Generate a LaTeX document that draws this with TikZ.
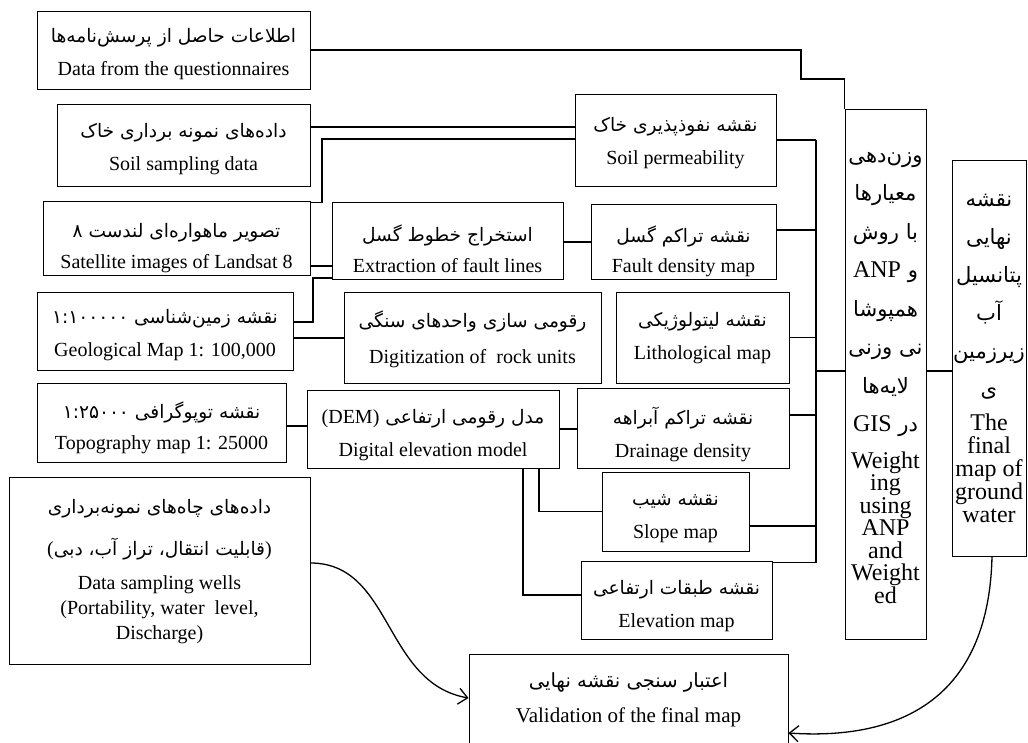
\documentclass[tikz,border=0pt]{standalone}
\usepackage{fontspec}
\setmainfont{Liberation Serif}
\newfontfamily\fafont[Script=Arabic,Scale=0.93]{DejaVu Sans}
\newfontfamily\fafontB[Script=Arabic,Scale=0.88]{DejaVu Sans}
\TeXXeTstate=1
\usetikzlibrary{arrows.meta,calc}
\newcommand\fa[1]{{\fafont\beginR #1\endR}}
\newcommand\faB[1]{{\fafontB\beginR #1\endR}}
\newcommand\ltr[1]{\beginL #1\endL}
\lineskiplimit=-100pt
\begin{document}
\begin{tikzpicture}[x=1pt,y=-1pt,
  bx/.style={draw, line width=1pt, inner sep=0pt, rectangle},
  tx/.style={inner sep=0pt, align=center, font=\fontsize{20}{33}\selectfont},
  conn/.style={line width=1.3pt},
  arr/.style={line width=1.3pt, -{Straight Barb[length=9pt,width=16pt]}},
]
\fill[white] (0,0) rectangle (1028,742);
\useasboundingbox (0,0) rectangle (1028,742);
\clip (0,0) rectangle (1028,742);

% ---------- left column
\node[bx, minimum width=273pt, minimum height=78pt] (q) at (173.5,50) {};
\node[tx] (qT) at ([yshift=-4pt]q.center)
  {\fa{اطلاعات حاصل از پرسش^^^^200cنامه^^^^200cها}\\Data from the questionnaires};

\node[bx, minimum width=253pt, minimum height=82pt] (ss) at (183.5,145) {};
\node[tx] (ssT) at ([yshift=-4pt]ss.center)
  {\fa{داده^^^^200cهای نمونه برداری خاک}\\Soil sampling data};

\node[bx, minimum width=267pt, minimum height=74pt] (sat) at (176.5,238) {};
\node[tx, font=\fontsize{20}{31}\selectfont] (satT) at ([yshift=-10pt]sat.center)
  {\fa{تصویر ماهواره^^^^200cای لندست ۸}\\Satellite images of Landsat 8};

\node[bx, minimum width=256pt, minimum height=78pt] (geo) at (165,331) {};
\node[tx] (geoT) at ([yshift=-4pt]geo.center)
  {\fa{نقشه زمین^^^^200cشناسی \ltr{۱:۱۰۰۰۰۰}}\\Geological Map 1: 100,000};

\node[bx, minimum width=249pt, minimum height=79pt] (topo) at (161.5,422.5) {};
\node[tx, font=\fontsize{20}{31}\selectfont] (topoT) at ([yshift=-5pt]topo.center)
  {\fa{نقشه توپوگرافی \ltr{۱:۲۵۰۰۰}}\\Topography map 1: 25000};

\node[bx, minimum width=301pt, minimum height=187pt] (wells) at (159.5,570.5) {};
\node[tx, font=\fontsize{20}{25}\selectfont] (wellsT) at ([yshift=-1pt]wells.center)
  {\fa{داده^^^^200cهای چاه^^^^200cهای نمونه^^^^200cبرداری}\\[17pt]
   {(}\fa{قابلیت انتقال، تراز آب، دبی}{)}\\[9pt]
   Data sampling wells\\(Portability, water\ \ level,\\Discharge)};

% ---------- middle column
\node[bx, minimum width=231pt, minimum height=77pt] (ext) at (447.5,240.5) {};
\node[tx, font=\fontsize{20}{31}\selectfont] (extT) at ([yshift=-8pt]ext.center)
  {\fa{استخراج خطوط گسل}\\Extraction of fault lines};

\node[bx, minimum width=257pt, minimum height=91pt] (dig) at (472.5,337.5) {};
\node[tx, font=\fontsize{20}{36}\selectfont] (digT) at ([yshift=-2pt]dig.center)
  {\fa{رقومی سازی واحدهای سنگی}\\Digitization of\ \ rock units};

\node[bx, minimum width=252pt, minimum height=78pt] (dem) at (433,429) {};
\node[tx] (demT) at ([yshift=-6pt]dem.center)
  {\fa{مدل رقومی ارتفاعی \ltr{\rmfamily(DEM)}}\\Digital elevation model};

% ---------- map column
\node[bx, minimum width=201pt, minimum height=92pt] (sp) at (675.5,140) {};
\node[tx] (spT) at ([yshift=-3pt]sp.center)
  {\fa{نقشه نفوذپذیری خاک}\\Soil permeability};

\node[bx, minimum width=185pt, minimum height=75pt] (fd) at (683.5,241.5) {};
\node[tx, font=\fontsize{20}{30}\selectfont] (fdT) at ([yshift=-10pt]fd.center)
  {\fa{نقشه تراکم گسل}\\Fault density map};

\node[bx, minimum width=173pt, minimum height=91pt] (lit) at (702.5,337.5) {};
\node[tx] (litT) at ([yshift=-1pt]lit.center)
  {\fa{نقشه لیتولوژیکی}\\Lithological map};

\node[bx, minimum width=212pt, minimum height=80pt] (dr) at (683,428) {};
\node[tx] (drT) at ([yshift=-6pt]dr.center)
  {\fa{نقشه تراکم آبراهه}\\Drainage density};

\node[bx, minimum width=147pt, minimum height=79pt] (sl) at (675.5,511.5) {};
\node[tx] (slT) at ([yshift=-7pt]sl.center)
  {\fa{نقشه شیب}\\Slope map};

\node[bx, minimum width=191pt, minimum height=78pt] (el) at (676.5,600) {};
\node[tx] (elT) at ([yshift=-6pt]el.center)
  {\fa{نقشه طبقات ارتفاعی}\\Elevation map};

% ---------- right column
\node[bx, minimum width=81pt, minimum height=530pt] (wt) at (885.5,374.5) {};
\node[tx, font=\fontsize{24}{22.5}\selectfont] (wtT) at ([yshift=-3pt]wt.center)
  {\faB{وزن^^^^200cدهی}\\[16pt]\faB{معیارها}\\[16pt]\faB{با روش}\\[16pt]
   \faB{و \ltr{\rmfamily ANP}}\\[16pt]\faB{همپوشا}\\[16pt]\faB{نی وزنی}\\[16pt]
   \faB{لایه^^^^200cها}\\[16pt]\faB{در \ltr{\rmfamily GIS}}\\[14pt]
   Weight\\ing\\using\\ANP\\and\\Weight\\ed};

\node[bx, minimum width=74pt, minimum height=396pt] (fin) at (989,358) {};
\node[tx, font=\fontsize{24}{23}\selectfont] (finT) at (fin.center)
  {\faB{نقشه}\\[15pt]\faB{نهایی}\\[15pt]\faB{پتانسیل}\\[15pt]\faB{آب}\\[15pt]
   \faB{زیرزمین}\\[15pt]\faB{ی}\\[11pt]The\\final\\map of\\ground\\water};

\node[bx, minimum width=319pt, minimum height=92pt] (val) at (628.5,700) {};
\node[tx, font=\fontsize{21}{35}\selectfont] (valT) at (val.center)
  {\fa{اعتبار سنجی نقشه نهایی}\\Validation of the final map};

% ---------- connectors
\coordinate (bus) at (816,0);
\coordinate (qk) at (801,79);
\draw[conn] (q.east) -- (q.east -| qk) -- (qk) -| (wt.north west);

\coordinate (ssR) at ([yshift=18pt]ss.east);
\draw[conn] (ssR) -- (ssR -| sp.west);

\coordinate (satR) at ([yshift=-2pt]sat.north east);
\coordinate (satK) at (322,139);
\draw[conn] (satR) -| (satK) -- (satK -| sp.west);

\coordinate (satR2) at ([yshift=-28pt]sat.east);
\draw[conn] (satR2) -- (satR2 -| ext.west);

\coordinate (geoR) at ([yshift=9pt]geo.east);
\coordinate (geoK) at (313,278);
\draw[conn] (geoR) -| (geoK) -- (geoK -| ext.west);

\coordinate (geoR2) at ([yshift=-7pt]geo.east);
\draw[conn] (geoR2) -- (geoR2 -| dig.west);

\coordinate (extR) at ([yshift=-1.5pt]ext.east);
\draw[conn] (extR) -- (extR -| fd.west);

\coordinate (topoR) at ([yshift=-3.5pt]topo.east);
\draw[conn] (topoR) -- (topoR -| dem.west);

\draw[conn] (dem.east) -- (dem.east -| dr.west);
\draw[conn] ([xshift=106pt]dem.south) |- (sl.west);
\coordinate (elL) at ([yshift=5pt]el.west);
\draw[conn] ([xshift=90pt]dem.south) |- (elL);

\draw[conn] (sp.east) -- (sp.east -| bus);
\coordinate (fdR) at ([yshift=11.5pt]fd.east);
\draw[conn] (fdR) -- (fdR -| bus);
\draw[conn] (lit.east) -- (lit.east -| bus);
\coordinate (drR) at ([yshift=13pt]dr.east);
\draw[conn] (drR) -- (drR -| bus);
\coordinate (slR) at ([yshift=-14.5pt]sl.east);
\draw[conn] (slR) -- (slR -| bus);
\coordinate (elR) at ([yshift=-2pt]el.north east);
\draw[conn] (elR) -- (elR -| bus);
\draw[conn] (sp.east -| bus) -- (elR -| bus);

\coordinate (busM) at (816,371);
\draw[conn] (busM) -- (busM -| wt.west);
\draw[conn] (busM -| wt.east) -- (busM -| fin.west);

\coordinate (wR) at ([yshift=7.5pt]wells.east);
\coordinate (valL) at ([yshift=2pt]val.west);
\draw[arr] (wR) .. controls +(82,0) and +(-85,-15) .. (valL);

\coordinate (finB) at ([xshift=3pt]fin.south);
\coordinate (valR) at ([yshift=-33pt]val.east);
\draw[arr] (finB) .. controls +(-3,135) and +(120,8) .. (valR);
\end{tikzpicture}
\end{document}
